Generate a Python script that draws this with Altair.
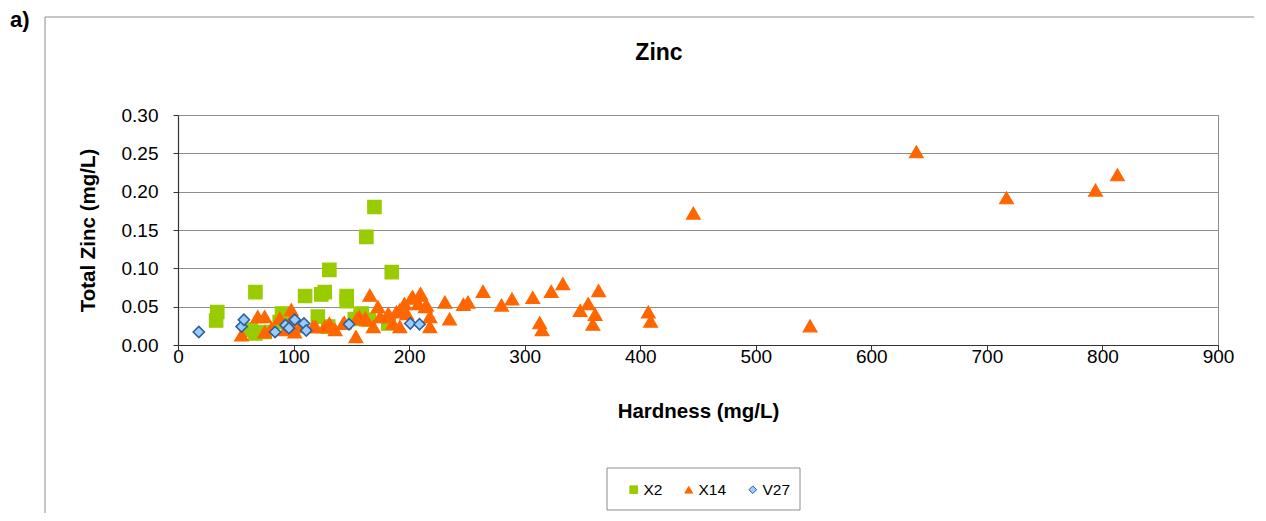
import altair as alt
import pandas as pd

# ---- data ----
series_names = ["X2", "X14", "V27"]

x2_hardness = [33, 34, 63, 67, 67, 75, 88, 90, 110, 121, 124, 127, 130, 131, 146, 146,
               153, 158, 159, 163, 165, 170, 182, 185]
x2_zinc = [0.032, 0.043, 0.020, 0.069, 0.015, 0.017, 0.030, 0.041, 0.064, 0.037, 0.066,
           0.069, 0.024, 0.098, 0.064, 0.057, 0.034, 0.038, 0.041, 0.141, 0.033, 0.180,
           0.028, 0.095]

x14_hardness = [55, 69, 75, 75, 81, 88, 93, 98, 98, 101, 106, 117, 119, 127, 131, 136, 143,
                144, 154, 155, 157, 162, 163, 166, 169, 173, 175, 181, 182, 186, 189, 192,
                192, 196, 198, 202, 203, 208, 209, 210, 214, 215, 218, 218, 231, 235, 247,
                251, 264, 280, 289, 307, 313, 315, 323, 333, 348, 355, 359, 361, 364, 407,
                409, 446, 547, 639, 717, 794, 813]
x14_zinc = [0.013, 0.037, 0.037, 0.017, 0.022, 0.035, 0.020, 0.046, 0.033, 0.017, 0.024,
            0.024, 0.024, 0.024, 0.028, 0.020, 0.028, 0.029, 0.011, 0.035, 0.037, 0.035,
            0.033, 0.065, 0.024, 0.050, 0.037, 0.037, 0.041, 0.028, 0.043, 0.024, 0.046,
            0.054, 0.041, 0.061, 0.063, 0.054, 0.065, 0.067, 0.050, 0.052, 0.037, 0.024,
            0.056, 0.034, 0.053, 0.056, 0.070, 0.052, 0.060, 0.062, 0.029, 0.020, 0.070,
            0.080, 0.045, 0.054, 0.027, 0.040, 0.071, 0.043, 0.031, 0.172, 0.025, 0.252,
            0.192, 0.202, 0.222]

v27_hardness = [18, 55, 57, 84, 93, 96, 101, 109, 111, 148, 201, 209]
v27_zinc = [0.017, 0.024, 0.033, 0.017, 0.026, 0.022, 0.033, 0.028, 0.019, 0.027, 0.028, 0.027]

x_ticks = [0, 100, 200, 300, 400, 500, 600, 700, 800, 900]
y_ticks = [0.0, 0.05, 0.10, 0.15, 0.20, 0.25, 0.30]

# ---- styles ----
fills = ["#99cc00", "#ff6600", "#99ccff"]
strokes = ["#99cc00", "#ff6600", "#2f5f98"]
shapes = ["square", "triangle-up", "diamond"]
sizes = [180, 190, 125]
stroke_widths = [1.2, 1.2, 1.6]
FONT = "Liberation Sans"

frames = {
    "X2": pd.DataFrame({"hardness": x2_hardness, "zinc": x2_zinc, "series": "X2"}),
    "X14": pd.DataFrame({"hardness": x14_hardness, "zinc": x14_zinc, "series": "X14"}),
    "V27": pd.DataFrame({"hardness": v27_hardness, "zinc": v27_zinc, "series": "V27"}),
}

W, H = 1040, 230

leg = alt.Legend(title=None, orient="none", legendX=448, legendY=367, direction="horizontal",
                 symbolSize=60, labelFontSize=15.5, labelFont=FONT, labelColor="black",
                 labelOffset=2, columnPadding=18, padding=0, symbolStrokeWidth=1,
                 gridAlign="none")

x_enc = alt.X("hardness:Q", scale=alt.Scale(domain=[0, 900], nice=False),
              axis=alt.Axis(values=x_ticks, title="Hardness (mg/L)", grid=False,
                            labelFlush=False, labelPadding=-3, titlePadding=35))
y_enc = alt.Y("zinc:Q", scale=alt.Scale(domain=[0, 0.30], nice=False),
              axis=alt.Axis(values=y_ticks, format=".2f", title="Total Zinc (mg/L)",
                            grid=True, labelPadding=15, titlePadding=23))
fill_enc = alt.Fill("series:N", scale=alt.Scale(domain=series_names, range=fills), legend=leg)
stroke_enc = alt.Stroke("series:N", scale=alt.Scale(domain=series_names, range=strokes), legend=leg)
shape_enc = alt.Shape("series:N", scale=alt.Scale(domain=series_names, range=shapes), legend=leg)

point_layers = []
for name, sz, sw in zip(series_names, sizes, stroke_widths):
    point_layers.append(
        alt.Chart(frames[name]).mark_point(filled=True, opacity=1, strokeWidth=sw, size=sz)
        .encode(x=x_enc, y=y_enc, fill=fill_enc, stroke=stroke_enc, shape=shape_enc)
    )

one = pd.DataFrame({"k": [0]})

frame_left = alt.Chart(one).mark_rule(color="#8c8c8c", strokeWidth=1).encode(
    x=alt.value(-133), y=alt.value(-98), y2=alt.value(420))
frame_top = alt.Chart(one).mark_rule(color="#8c8c8c", strokeWidth=1).encode(
    x=alt.value(-133), x2=alt.value(1100), y=alt.value(-98))

legend_box = alt.Chart(one).mark_rect(fill="white", stroke="#8c8c8c", strokeWidth=1).encode(
    x=alt.value(429), x2=alt.value(622), y=alt.value(353), y2=alt.value(395))

label_a = alt.Chart(pd.DataFrame({"t": ["a)"]})).mark_text(
    font=FONT, fontSize=22, fontWeight="bold", align="left", baseline="middle", color="black"
).encode(x=alt.value(-168), y=alt.value(-95), text="t:N")

title_txt = alt.Chart(pd.DataFrame({"t": ["Zinc"]})).mark_text(
    font=FONT, fontSize=23, fontWeight="bold", align="center", baseline="middle", color="black"
).encode(x=alt.value(481), y=alt.value(-62), text="t:N")

chart = alt.layer(frame_left, frame_top, legend_box, *point_layers, label_a, title_txt).properties(
    width=W, height=H,
    autosize=alt.AutoSizeParams(type="none"),
    padding={"left": 170, "top": 107, "right": 36, "bottom": 168},
).configure_axis(
    labelFont=FONT, labelFontSize=19, labelColor="black",
    titleFont=FONT, titleFontSize=20.5, titleFontWeight="bold", titleColor="black",
    domainColor="#333333", tickColor="#333333", tickSize=5, domainWidth=1.2,
    gridColor="#8c8c8c", gridWidth=1,
).configure_view(stroke="#8c8c8c", strokeWidth=1)

chart.save("out.html", embed_options={"renderer": "svg", "actions": False})
